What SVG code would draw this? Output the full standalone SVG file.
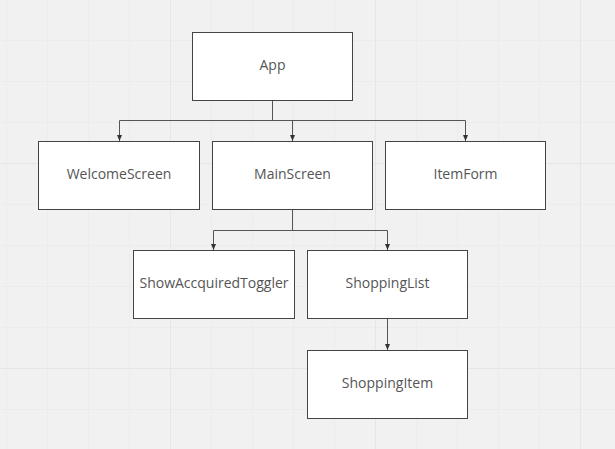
<svg xmlns="http://www.w3.org/2000/svg" width="615" height="449" viewBox="0 0 615 449">
<style>
.minor{stroke:#ececec;stroke-width:1}
.major{stroke:#e6e6e6;stroke-width:1}
.box{fill:#ffffff;stroke:#444444;stroke-width:1}
.lbl{font-family:"Open Sans","Noto Sans",sans-serif;font-size:14px;fill:#555555;text-anchor:middle;dominant-baseline:central}
.con{fill:none;stroke:#555555;stroke-width:1}
</style>
<defs>
<marker id="arr" viewBox="0 0 6 7" refX="6" refY="3.5" markerWidth="6" markerHeight="7" markerUnits="userSpaceOnUse" orient="auto">
<path d="M0,1 L6,3.5 L0,6 Z" fill="#333333"/>
</marker>
</defs>
<rect x="0" y="0" width="615" height="449" fill="#f1f1f1"/>
<g id="grid">
<path class="minor" d="M6.5,0V449M47.5,0V449M88.5,0V449M129.5,0V449M211.5,0V449M252.5,0V449M293.5,0V449M334.5,0V449M416.5,0V449M457.5,0V449M498.5,0V449M539.5,0V449M0,40.5H615M0,81.5H615M0,122.5H615M0,204.5H615M0,245.5H615M0,286.5H615M0,327.5H615M0,409.5H615"/>
<path class="major" d="M170.5,0V449M375.5,0V449M580.5,0V449M0,163.5H615M0,368.5H615"/>
</g>
<g id="connectors">
<path class="con" d="M272.5,100.5V120.5"/>
<path class="con" d="M119.5,120.5H465.5"/>
<path class="con" d="M119.5,120.5V141" marker-end="url(#arr)"/>
<path class="con" d="M292.5,120.5V141" marker-end="url(#arr)"/>
<path class="con" d="M465.5,120.5V141" marker-end="url(#arr)"/>
<path class="con" d="M292.5,209.5V230.5"/>
<path class="con" d="M213.5,230.5H387.5"/>
<path class="con" d="M213.5,230.5V250" marker-end="url(#arr)"/>
<path class="con" d="M387.5,230.5V250" marker-end="url(#arr)"/>
<path class="con" d="M387.5,318.5V350" marker-end="url(#arr)"/>
</g>
<g id="app"><rect class="box" x="192.5" y="32.5" width="160" height="68"/><text class="lbl" x="272.5" y="64.5">App</text></g>
<g id="welcome"><rect class="box" x="38.5" y="141.5" width="161" height="68"/><text class="lbl" x="119" y="173.5">WelcomeScreen</text></g>
<g id="main"><rect class="box" x="212.5" y="141.5" width="160" height="68"/><text class="lbl" x="292.5" y="173.5">MainScreen</text></g>
<g id="itemform"><rect class="box" x="385.5" y="141.5" width="160" height="68"/><text class="lbl" x="465.5" y="173.5">ItemForm</text></g>
<g id="toggler"><rect class="box" x="133.5" y="250.5" width="161" height="68"/><text class="lbl" x="214" y="282.5">ShowAccquiredToggler</text></g>
<g id="shoppinglist"><rect class="box" x="307.5" y="250.5" width="160" height="68"/><text class="lbl" x="387.5" y="282.5">ShoppingList</text></g>
<g id="shoppingitem"><rect class="box" x="307.5" y="350.5" width="160" height="68"/><text class="lbl" x="387.5" y="382.5">ShoppingItem</text></g>
</svg>
